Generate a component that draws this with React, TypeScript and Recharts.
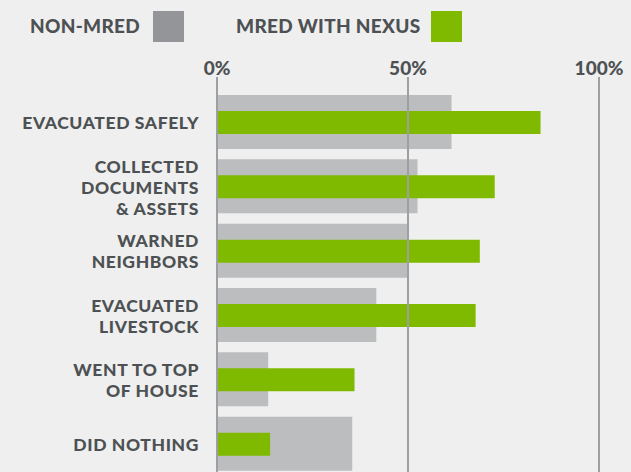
import { BarChart, Bar, XAxis, YAxis, ReferenceLine } from 'recharts';

const categories = [
  'EVACUATED SAFELY',
  'COLLECTED\nDOCUMENTS\n& ASSETS',
  'WARNED\nNEIGHBORS',
  'EVACUATED\nLIVESTOCK',
  'WENT TO TOP\nOF HOUSE',
  'DID NOTHING',
];
const nonMred = [61.4, 52.5, 50, 41.7, 13.4, 35.4];
const mredNexus = [84.7, 72.7, 68.8, 67.7, 36, 13.9];
const xTicks = [0, 50, 100];

const data = categories.map((name, i) => ({ name, nonMred: nonMred[i], mredNexus: mredNexus[i] }));

const FONT = 'Lato, "DejaVu Sans", sans-serif';
const TEXT = '#4d5153';
const GRAY = '#bcbdbf';
const GREEN = '#7fba00';
const GRID = '#9d9fa2';

const CategoryTick = (props: any) => {
  const { y, payload } = props;
  const lines = String(payload.value).split('\n');
  const lh = 21;
  const start = y - ((lines.length - 1) * lh) / 2 + 7;
  return (
    <text
      textAnchor="end"
      fill={TEXT}
      fontFamily={FONT}
      fontWeight={900}
      fontSize={17.5}
      letterSpacing={0.6}
    >
      {lines.map((l, i) => (
        <tspan key={i} x={199} y={start + i * lh}>
          {l}
        </tspan>
      ))}
    </text>
  );
};

const PercentTick = (props: any) => {
  const { x, payload } = props;
  return (
    <text x={x} y={75} textAnchor="middle" fill={TEXT} fontFamily={FONT} fontWeight={900} fontSize={19}>
      {`${payload.value}%`}
    </text>
  );
};

const legendText = {
  fontFamily: FONT,
  fontWeight: 900,
  fontSize: 19,
  color: TEXT,
  position: 'absolute' as const,
  top: 14,
  lineHeight: '24px',
  letterSpacing: 0.3,
};

export default function App() {
  return (
    <div style={{ position: 'fixed', left: 0, top: 0, width: 631, height: 472, overflow: 'hidden', background: '#efefef' }}>
      <div style={{ ...legendText, left: 30 }}>NON-MRED</div>
      <div style={{ position: 'absolute', left: 153, top: 11, width: 31, height: 31, background: '#939598' }} />
      <div style={{ ...legendText, left: 236 }}>MRED WITH NEXUS</div>
      <div style={{ position: 'absolute', left: 431, top: 11, width: 31, height: 31, background: GREEN }} />
      <BarChart
        width={631}
        height={480}
        data={data}
        layout="vertical"
        margin={{ top: 0, right: 32, left: 0, bottom: 0 }}
      >
        <XAxis
          type="number"
          orientation="top"
          domain={[0, 100]}
          ticks={xTicks}
          height={77}
          axisLine={false}
          tickLine={false}
          tick={<PercentTick />}
        />
        <YAxis
          yAxisId="a"
          type="category"
          dataKey="name"
          width={217}
          axisLine={false}
          tickLine={false}
          interval={0}
          padding={{ top: 13, bottom: 4 }}
          tick={<CategoryTick />}
        />
        <YAxis yAxisId="b" type="category" dataKey="name" hide padding={{ top: 13, bottom: 4 }} />
        <Bar yAxisId="a" dataKey="nonMred" fill={GRAY} barSize={54} isAnimationActive={false} />
        <Bar yAxisId="b" dataKey="mredNexus" fill={GREEN} barSize={23} isAnimationActive={false} />
        {xTicks.map((t) => (
          <ReferenceLine key={t} yAxisId="a" x={t} stroke={GRID} strokeWidth={2} />
        ))}
      </BarChart>
    </div>
  );
}
